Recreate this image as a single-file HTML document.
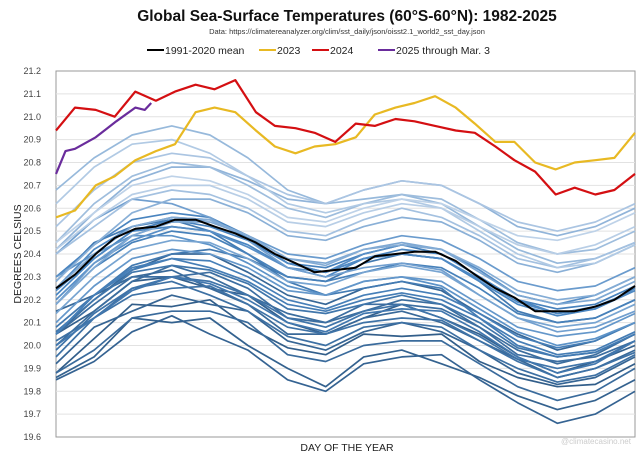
<!DOCTYPE html>
<html><head><meta charset="utf-8"><style>
body{margin:0;background:#fff;}
svg{display:block;font-family:"Liberation Sans",sans-serif;}
</style></head><body>
<svg id="chart" width="640" height="457" viewBox="0 0 640 457">
<text x="347" y="21" text-anchor="middle" font-size="15.5" font-weight="bold" fill="#111">Global Sea-Surface Temperatures (60°S-60°N): 1982-2025</text>
<text x="347" y="34" text-anchor="middle" font-size="7.5" fill="#333">Data: https://climatereanalyzer.org/clim/sst_daily/json/oisst2.1_world2_sst_day.json</text>
<g id="legend"></g>
<rect x="56" y="71" width="579" height="366" fill="#fff" stroke="#999" stroke-width="1"/>
<g id="grid"></g>
<g id="series"></g>
<text transform="translate(21,254) rotate(-90)" text-anchor="middle" font-size="10.5" fill="#222">DEGREES CELSIUS</text>
<text x="347" y="451" text-anchor="middle" font-size="10.5" fill="#222">DAY OF THE YEAR</text>
<text x="596" y="444" text-anchor="middle" font-size="8" fill="#ccc">@climatecasino.net</text>
</svg>
<script>
const yTicks=[19.6,19.7,19.8,19.9,20.0,20.1,20.2,20.3,20.4,20.5,20.6,20.7,20.8,20.9,21.0,21.1,21.2];
const yTickLabels=["19.6","19.7","19.8","19.9","20.0","20.1","20.2","20.3","20.4","20.5","20.6","20.7","20.8","20.9","21.0","21.1","21.2"];
const keyDays=[1,13,26,38,51,64,76,89,101,114,127,139,152,164,177,190,202,215,227,240,253,265,278,290,303,316,328,341,353,366];
const meanVals=[20.25,20.31,20.40,20.47,20.51,20.52,20.55,20.55,20.52,20.49,20.45,20.40,20.36,20.32,20.33,20.34,20.39,20.40,20.41,20.41,20.37,20.31,20.25,20.21,20.15,20.15,20.15,20.17,20.20,20.26];
const vals2024=[20.94,21.04,21.03,21.00,21.11,21.07,21.11,21.14,21.12,21.16,21.02,20.96,20.95,20.93,20.89,20.97,20.96,20.99,20.98,20.96,20.94,20.93,20.87,20.81,20.76,20.66,20.69,20.66,20.68,20.75];
const vals2023=[20.56,20.59,20.70,20.74,20.81,20.85,20.88,21.02,21.04,21.02,20.94,20.87,20.84,20.87,20.88,20.91,21.01,21.04,21.06,21.09,21.04,20.97,20.89,20.89,20.80,20.77,20.80,20.81,20.82,20.93];
const days2025=[1,7,13,26,39,51,57,61];
const vals2025=[20.75,20.85,20.86,20.91,20.98,21.04,21.03,21.06];
const bgDays=[1,25,49,74,98,122,147,171,195,219,244,268,292,317,341,366];
const bgYears=[1982,1983,1984,1985,1986,1987,1988,1989,1990,1991,1992,1993,1994,1995,1996,1997,1998,1999,2000,2001,2002,2003,2004,2005,2006,2007,2008,2009,2010,2011,2012,2013,2014,2015,2016,2017,2018,2019,2020,2021,2022];
const bgVals=[
[19.88,20.03,20.18,20.17,20.20,20.08,19.99,19.96,20.05,20.04,20.05,19.93,19.86,19.82,19.83,19.92],
[20.05,20.15,20.28,20.30,20.25,20.22,20.10,20.05,20.12,20.18,20.12,20.05,19.95,19.88,19.93,20.00],
[19.86,19.95,20.12,20.10,20.12,20.00,19.90,19.82,19.95,19.98,19.92,19.86,19.78,19.72,19.76,19.85],
[19.85,19.93,20.06,20.13,20.05,19.98,19.85,19.80,19.92,19.95,19.96,19.85,19.75,19.66,19.70,19.80],
[19.92,20.08,20.15,20.22,20.18,20.15,20.02,19.98,20.06,20.10,20.06,19.98,19.88,19.83,19.86,19.95],
[20.05,20.20,20.33,20.40,20.40,20.32,20.22,20.18,20.25,20.28,20.24,20.14,20.05,19.98,20.02,20.10],
[20.15,20.22,20.30,20.33,20.25,20.18,20.05,20.05,20.12,20.15,20.10,20.02,19.94,19.86,19.90,19.98],
[19.88,19.98,20.12,20.15,20.15,20.10,19.96,19.93,20.00,20.02,20.02,19.92,19.82,19.76,19.80,19.90],
[20.00,20.15,20.28,20.35,20.30,20.22,20.14,20.10,20.15,20.20,20.18,20.08,19.98,19.92,19.96,20.05],
[20.05,20.18,20.30,20.30,20.32,20.25,20.12,20.10,20.18,20.18,20.16,20.08,19.96,19.93,19.95,20.02],
[20.02,20.12,20.25,20.28,20.22,20.15,20.04,20.00,20.08,20.10,20.08,19.98,19.90,19.84,19.87,19.96],
[19.95,20.12,20.22,20.25,20.26,20.18,20.08,20.05,20.10,20.12,20.11,20.02,19.93,19.86,19.90,19.97],
[19.98,20.14,20.25,20.30,20.28,20.22,20.12,20.08,20.15,20.18,20.12,20.04,19.94,19.90,19.93,20.02],
[20.06,20.20,20.32,20.35,20.33,20.27,20.16,20.14,20.18,20.22,20.18,20.10,19.99,19.95,19.97,20.05],
[20.00,20.12,20.24,20.30,20.27,20.20,20.10,20.06,20.14,20.16,20.15,20.06,19.95,19.88,19.92,20.02],
[20.08,20.22,20.35,20.40,20.42,20.38,20.30,20.28,20.36,20.40,20.38,20.28,20.15,20.10,20.12,20.20],
[20.28,20.45,20.52,20.55,20.50,20.40,20.28,20.22,20.25,20.28,20.25,20.12,20.00,19.95,19.97,20.05],
[20.05,20.22,20.33,20.38,20.34,20.28,20.18,20.15,20.20,20.23,20.20,20.12,20.02,19.96,19.98,20.06],
[20.05,20.22,20.34,20.38,20.37,20.30,20.20,20.16,20.22,20.25,20.22,20.14,20.04,19.99,20.02,20.10],
[20.18,20.34,20.45,20.50,20.48,20.40,20.30,20.28,20.32,20.36,20.34,20.25,20.14,20.10,20.12,20.20],
[20.24,20.38,20.50,20.55,20.52,20.46,20.36,20.34,20.40,20.44,20.40,20.30,20.20,20.16,20.18,20.26],
[20.30,20.44,20.55,20.58,20.56,20.48,20.36,20.32,20.38,20.42,20.40,20.30,20.20,20.14,20.16,20.25],
[20.22,20.38,20.50,20.52,20.50,20.44,20.34,20.30,20.38,20.40,20.38,20.28,20.18,20.13,20.16,20.24],
[20.25,20.42,20.52,20.56,20.55,20.47,20.36,20.32,20.38,20.40,20.38,20.29,20.19,20.14,20.17,20.24],
[20.20,20.36,20.46,20.52,20.50,20.43,20.34,20.32,20.40,20.44,20.42,20.33,20.22,20.18,20.22,20.30],
[20.30,20.40,20.48,20.48,20.44,20.36,20.26,20.22,20.28,20.30,20.26,20.16,20.06,20.00,20.03,20.10],
[20.10,20.26,20.38,20.42,20.40,20.34,20.24,20.22,20.28,20.30,20.28,20.18,20.08,20.04,20.06,20.14],
[20.18,20.36,20.48,20.54,20.55,20.48,20.40,20.38,20.44,20.48,20.46,20.38,20.28,20.24,20.26,20.34],
[20.40,20.55,20.64,20.62,20.56,20.46,20.34,20.30,20.34,20.36,20.33,20.22,20.12,20.06,20.08,20.15],
[20.14,20.30,20.42,20.46,20.45,20.38,20.28,20.26,20.32,20.35,20.32,20.22,20.12,20.08,20.10,20.18],
[20.18,20.34,20.48,20.54,20.54,20.48,20.38,20.36,20.42,20.45,20.42,20.32,20.22,20.18,20.20,20.28],
[20.25,20.40,20.52,20.56,20.55,20.48,20.38,20.35,20.42,20.44,20.42,20.34,20.24,20.20,20.22,20.30],
[20.28,20.44,20.58,20.64,20.64,20.58,20.48,20.46,20.52,20.56,20.54,20.46,20.36,20.32,20.36,20.44],
[20.42,20.58,20.72,20.78,20.78,20.72,20.64,20.62,20.68,20.72,20.70,20.62,20.52,20.48,20.52,20.60],
[20.68,20.82,20.92,20.96,20.92,20.82,20.68,20.62,20.64,20.66,20.62,20.52,20.42,20.36,20.38,20.45],
[20.45,20.62,20.74,20.80,20.78,20.70,20.60,20.56,20.62,20.66,20.64,20.55,20.45,20.40,20.42,20.50],
[20.40,20.52,20.64,20.68,20.66,20.60,20.50,20.48,20.55,20.60,20.56,20.48,20.38,20.34,20.38,20.45],
[20.52,20.68,20.80,20.84,20.82,20.74,20.66,20.62,20.68,20.72,20.70,20.62,20.54,20.50,20.54,20.62],
[20.62,20.78,20.88,20.90,20.84,20.74,20.62,20.58,20.62,20.64,20.60,20.50,20.40,20.34,20.36,20.44],
[20.42,20.55,20.66,20.70,20.70,20.64,20.54,20.52,20.58,20.62,20.60,20.52,20.44,20.40,20.44,20.52],
[20.45,20.58,20.70,20.74,20.72,20.66,20.56,20.54,20.60,20.64,20.62,20.55,20.48,20.46,20.50,20.58]
];
const legendLabels=["1991-2020 mean","2023","2024","2025 through Mar. 3"];

const NS="http://www.w3.org/2000/svg";
const X0=56,X1=635,Y0=437,Y1=71,VMIN=19.6,VMAX=21.2;
function xScale(d){return X0+(d-1)/365*(X1-X0);}
function yScale(v){return Y0-(v-VMIN)/(VMAX-VMIN)*(Y0-Y1);}
function mk(tag,attrs){const e=document.createElementNS(NS,tag);for(const k in attrs)e.setAttribute(k,attrs[k]);return e;}

const grid=document.getElementById('grid');
yTicks.forEach((t,i)=>{
  const y=yScale(t);
  if(i>0&&i<yTicks.length-1){
    const l=mk('line',{x1:X0,x2:X1,y1:y,y2:y,stroke:'#e2e2e2','stroke-width':1});
    
    
    grid.appendChild(l);
  }
  const tx=mk('text',{x:41,y:y+3,'text-anchor':'end','font-size':9,fill:'#444'});
  tx.textContent=yTickLabels[i];
  
  
  grid.appendChild(tx);
});

const series=document.getElementById('series');
function line(days,vals,color,w){
  const d=vals.map((v,i)=>(i?'L':'M')+xScale(days[i]).toFixed(1)+','+yScale(v).toFixed(1)).join('');
  return mk('path',{d:d,fill:'none',stroke:color,'stroke-width':w,'stroke-linejoin':'round'});
}
const c0=[50,94,138],cm=[74,134,194],c1=[190,210,232];
function mix(a,b,f){return a.map((x,k)=>Math.round(x+(b[k]-x)*f));}
bgYears.forEach((yr,i)=>{
  const f=i/(bgYears.length-1);
  const rgb=f<0.55?mix(c0,cm,f/0.55):mix(cm,c1,(f-0.55)/0.45);
  const c='rgb('+rgb.join(',')+')';
  const p=line(bgDays,bgVals[i],c,1.7);
  
  
  series.appendChild(p);
});
const pm=line(keyDays,meanVals,'#000',2);


series.appendChild(pm);
const p23=line(keyDays,vals2023,'#e8b923',2.2);


series.appendChild(p23);
const p24=line(keyDays,vals2024,'#d40f12',2.2);


series.appendChild(p24);
const p25=line(days2025,vals2025,'#6a2c9c',2.2);


series.appendChild(p25);

const legend=document.getElementById('legend');
const lcolors=['#000','#e8b923','#d40f12','#6a2c9c'];
const lx=[147,259,312,378];
legendLabels.forEach((lab,i)=>{
  const g=mk('g',{});
  
  
  g.appendChild(mk('line',{x1:lx[i],x2:lx[i]+17,y1:50,y2:50,stroke:lcolors[i],'stroke-width':2}));
  const t=mk('text',{x:lx[i]+18,y:54,'font-size':10.5,fill:'#222'});
  t.textContent=lab;
  g.appendChild(t);
  legend.appendChild(g);
});
</script>
</body></html>
